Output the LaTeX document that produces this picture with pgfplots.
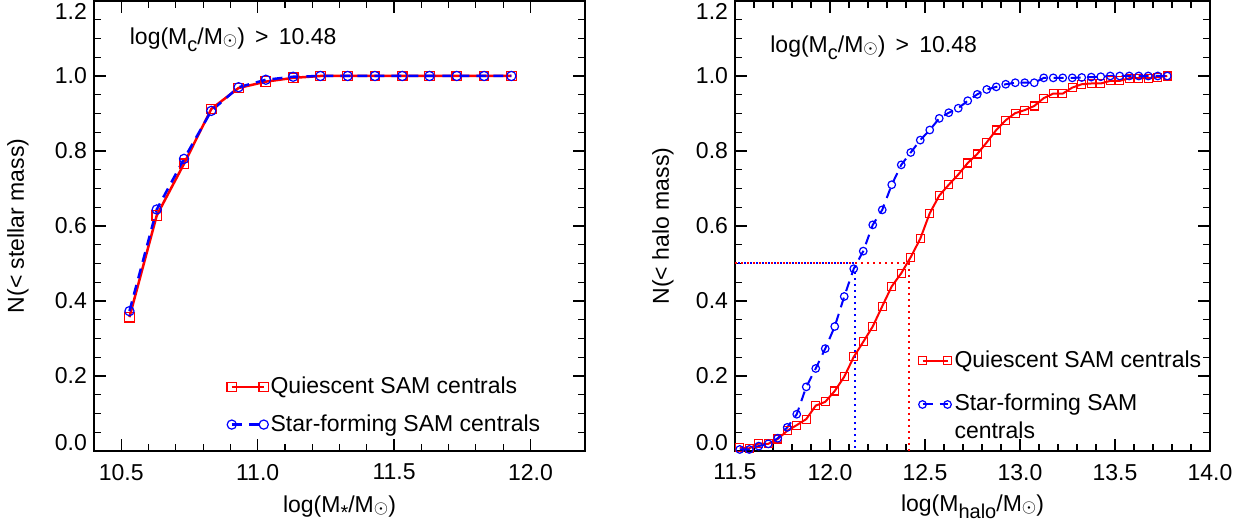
\documentclass[border=0pt]{standalone}
\usepackage{fontspec}
\setmainfont{Liberation Sans}
\usepackage{pgfplots}
\pgfplotsset{compat=1.18}

\newcommand{\sub}[1]{\raisebox{-3.5pt}{\fontsize{10}{10}\selectfont #1}}
\newcommand{\sun}{\raisebox{-0.5pt}{\fontsize{9}{9}\selectfont$\odot$}}

\pgfplotstableread{
x y
10.53 0.357
10.63 0.628
10.73 0.766
10.83 0.912
10.93 0.968
11.03 0.985
11.13 0.995
11.23 1.000
11.33 1.000
11.43 1.000
11.53 1.000
11.63 1.000
11.73 1.000
11.83 1.000
11.93 1.000
}\leftQ
\pgfplotstableread{
x y
10.53 0.373
10.63 0.644
10.73 0.779
10.83 0.907
10.93 0.970
11.03 0.990
11.13 0.998
11.23 1.000
11.33 1.000
11.43 1.000
11.53 1.000
11.63 1.000
11.73 1.000
11.83 1.000
11.93 1.000
}\leftSF
\pgfplotstableread{
x y
11.525 0.009
11.575 0.007
11.625 0.020
11.675 0.019
11.725 0.032
11.775 0.054
11.825 0.069
11.875 0.085
11.925 0.121
11.975 0.131
12.025 0.160
12.075 0.198
12.125 0.251
12.175 0.291
12.225 0.332
12.275 0.386
12.325 0.439
12.375 0.474
12.425 0.517
12.475 0.566
12.525 0.634
12.575 0.681
12.625 0.710
12.675 0.737
12.725 0.768
12.775 0.792
12.825 0.823
12.875 0.856
12.925 0.882
12.975 0.901
13.025 0.909
13.075 0.920
13.125 0.941
13.175 0.953
13.225 0.953
13.275 0.969
13.325 0.978
13.375 0.980
13.425 0.980
13.475 0.987
13.525 0.987
13.575 0.994
13.625 0.994
13.675 0.994
13.725 0.997
13.775 1.000
}\rightQ
\pgfplotstableread{
x y
11.525 0.004
11.575 0.004
11.625 0.013
11.675 0.019
11.725 0.034
11.775 0.063
11.825 0.098
11.875 0.171
11.925 0.220
11.975 0.273
12.025 0.332
12.075 0.412
12.125 0.486
12.175 0.533
12.225 0.603
12.275 0.643
12.325 0.710
12.375 0.763
12.425 0.796
12.475 0.829
12.525 0.856
12.575 0.887
12.625 0.902
12.675 0.914
12.725 0.934
12.775 0.951
12.825 0.964
12.875 0.971
12.925 0.978
12.975 0.982
13.025 0.982
13.075 0.982
13.125 0.995
13.175 0.995
13.225 0.995
13.275 0.995
13.325 0.996
13.375 0.997
13.425 0.998
13.475 1.000
13.525 1.000
13.575 1.000
13.625 1.000
13.675 1.000
13.725 1.000
13.775 1.000
}\rightSF

\pgfplotsset{
  idlax/.style={
    scale only axis,
    height=225pt,
    ymin=0, ymax=1.2,
    ytick={0,0.2,0.4,0.6,0.8,1.0,1.2},
    minor y tick num=3,
    minor x tick num=4,
    tick align=inside,
    major tick length=6pt,
    minor tick length=3.5pt,
    axis line style={line width=0.7pt},
    every tick/.style={black, line width=0.6pt},
    /pgf/number format/assume math mode=true,
    /pgf/number format/fixed,
    /pgf/number format/fixed zerofill,
    /pgf/number format/precision=1,
    scaled ticks=false,
    yticklabel={\pgfmathparse{\tick>1.1 ? -9.5 : (\tick<0.1 ? 0 : -4)}%
      \smash{\raisebox{\pgfmathresult pt}{\pgfmathprintnumber{\tick}}}},
    xticklabel style={yshift=-3pt},
    every axis y label/.style={rotate=90, anchor=center},
    every axis x label/.style={anchor=center},
    legend style={draw=none, fill=none, inner sep=0pt,
      nodes={inner sep=2pt}},
    legend cell align=left,
  },
  qstyle/.style={red, line width=1.25pt, mark=square, mark size=2.4pt,
    mark options={solid, line width=0.6pt}},
  sfstyle/.style={blue, line width=1.25pt, dash pattern=on 5pt off 3.5pt,
    mark=o, mark size=2.3pt, mark options={solid, line width=0.6pt}},
  shiftedlegend/.style={legend image code/.code={%
    \draw[##1, yshift=6.5pt] plot coordinates {(0pt,0pt) (12.5pt,0pt)};}},
}

\begin{document}
\begin{tikzpicture}[font=\fontsize{11.5}{14}\selectfont]
\path[use as bounding box] (0,0) rectangle (625pt,264.5pt);

% Left panel
\begin{axis}[idlax,
  at={(47pt,39pt)}, anchor=south west,
  width=245.5pt,
  xmin=10.4, xmax=12.2,
  xtick={10.5,11.0,11.5,12.0},
  xlabel={log(M\sub{*}/M\sun)},
  ylabel={N(< stellar mass)},
  xlabel style={at={(axis description cs:0.5,-0.125)}},
  ylabel style={at={(axis description cs:-0.155,0.5)}},
  legend style={at={(axis description cs:0.270,0.174)}, anchor=north west,
    row sep=5pt, column sep=-1pt},
  legend image code/.code={\draw[#1] plot coordinates {(0pt,0pt) (16pt,0pt)};},
]
\addplot[qstyle] table[x=x,y=y]{\leftQ};
\addlegendentry{Quiescent SAM centrals}
\addplot[sfstyle] table[x=x,y=y]{\leftSF};
\addlegendentry{Star-forming SAM centrals}
\node[anchor=west, inner sep=0pt] at (axis cs:10.53,1.096) {log(M\sub{c}/M\sun)~\,>~\,10.48};
\end{axis}

% Right panel
\begin{axis}[idlax,
  at={(367.5pt,39pt)}, anchor=south west,
  width=237.5pt,
  xmin=11.5, xmax=14.0,
  xtick={11.5,12.0,12.5,13.0,13.5,14.0},
  xlabel={log(M\sub{halo}/M\sun)},
  ylabel={N(< halo mass)},
  xlabel style={at={(axis description cs:0.5,-0.125)}},
  ylabel style={at={(axis description cs:-0.152,0.5)}},
  legend style={at={(axis description cs:0.3855,0.232)}, anchor=north west,
    cells={align=left}, row sep=7.5pt, column sep=-0.5pt},
  legend image code/.code={\draw[#1] plot coordinates {(0pt,0pt) (12.5pt,0pt)};},
]
\addplot[draw=red, color=red, line width=0.9pt, dash pattern=on 0.9pt off 2.1pt, forget plot]
  coordinates {(11.5,0.501) (12.417,0.501) (12.417,0)};
\addplot[draw=blue, color=blue, line width=0.9pt, dash pattern=on 0.9pt off 2.1pt, dash phase=1.5pt, forget plot]
  coordinates {(11.5,0.501) (12.132,0.501) (12.132,0)};
\addplot[qstyle, line width=1pt, mark size=2pt] table[x=x,y=y]{\rightQ};
\addlegendentry{Quiescent SAM centrals}
\addplot[sfstyle, line width=1pt, mark size=1.9pt, shiftedlegend]
  table[x=x,y=y]{\rightSF};
\addlegendentry{Star-forming SAM\\centrals}
\node[anchor=west, inner sep=0pt] at (axis cs:11.684,1.074) {log(M\sub{c}/M\sun)~\,>~\,10.48};
\end{axis}
\end{tikzpicture}
\end{document}
